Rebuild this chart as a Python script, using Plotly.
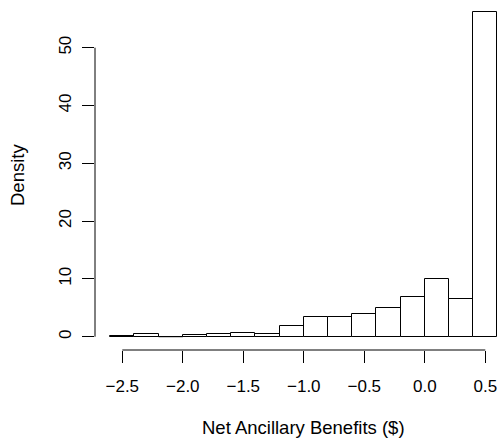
import plotly.graph_objects as go

# Histogram of net ancillary benefits: bin edges and density of each bin
bin_edges = [-2.6, -2.4, -2.2, -2.0, -1.8, -1.6, -1.4, -1.2, -1.0,
             -0.8, -0.6, -0.4, -0.2, 0.0, 0.2, 0.4, 0.6]
density = [0.15, 0.42, 0.0, 0.3, 0.42, 0.6, 0.42, 1.8, 3.36,
           3.36, 3.88, 4.9, 6.9, 10.0, 6.45, 56.2]
x_ticks = [-2.5, -2.0, -1.5, -1.0, -0.5, 0.0, 0.5]
x_tick_labels = ["\u22122.5", "\u22122.0", "\u22121.5", "\u22121.0", "\u22120.5", "0.0", "0.5"]
y_ticks = [0, 10, 20, 30, 40, 50]

centers = [(a + b) / 2 for a, b in zip(bin_edges[:-1], bin_edges[1:])]
widths = [b - a for a, b in zip(bin_edges[:-1], bin_edges[1:])]

FONT = "Liberation Sans, Arial, Helvetica, sans-serif"

fig = go.Figure()
fig.add_trace(go.Bar(
    x=centers, y=density, width=widths,
    marker=dict(color="white", line=dict(color="black", width=1)),
    showlegend=False, hoverinfo="skip",
))

# empty bins still show their flat outline along the baseline
empty_x, empty_y = [], []
for a, b, d in zip(bin_edges[:-1], bin_edges[1:], density):
    if d == 0:
        empty_x += [a, b, None]
        empty_y += [0, 0, None]
if empty_x:
    fig.add_trace(go.Scatter(
        x=empty_x, y=empty_y, mode="lines",
        line=dict(color="black", width=1),
        showlegend=False, hoverinfo="skip",
    ))

fig.update_layout(
    width=502, height=442,
    margin=dict(l=95, r=0, t=0, b=92),
    paper_bgcolor="white", plot_bgcolor="white",
    font=dict(family=FONT, size=17, color="black"),
    bargap=0,
    xaxis=dict(
        range=[-2.7256, 0.638], showgrid=False, zeroline=False, showline=False,
        tickmode="array", tickvals=x_ticks, ticktext=x_tick_labels,
        ticks="outside", ticklen=12, tickwidth=1, tickcolor="black",
        ticklabelstandoff=9,
    ),
    yaxis=dict(
        range=[-2.30, 58.25], showgrid=False, zeroline=False, showline=False,
        tickmode="array", tickvals=y_ticks,
        ticks="outside", ticklen=12, tickwidth=1, tickcolor="black",
        tickangle=-90, ticklabelstandoff=4,
    ),
    shapes=[
        # axis lines spanning only the tick range
        dict(type="line", xref="x", yref="paper", x0=x_ticks[0], x1=x_ticks[-1],
             y0=0, y1=0, line=dict(color="black", width=1)),
        dict(type="line", xref="paper", yref="y", x0=0, x1=0,
             y0=y_ticks[0], y1=y_ticks[-1], line=dict(color="black", width=1)),
    ],
    annotations=[
        dict(text="Net Ancillary Benefits ($)", xref="paper", yref="paper",
             x=0.5135, y=-0.22, showarrow=False, xanchor="center", yanchor="middle",
             font=dict(size=18.5)),
        dict(text="Density", xref="paper", yref="paper", textangle=-90,
             x=-0.1916, y=0.5, showarrow=False, xanchor="center", yanchor="middle",
             font=dict(size=18.5)),
    ],
)

fig.write_html("out.html")
